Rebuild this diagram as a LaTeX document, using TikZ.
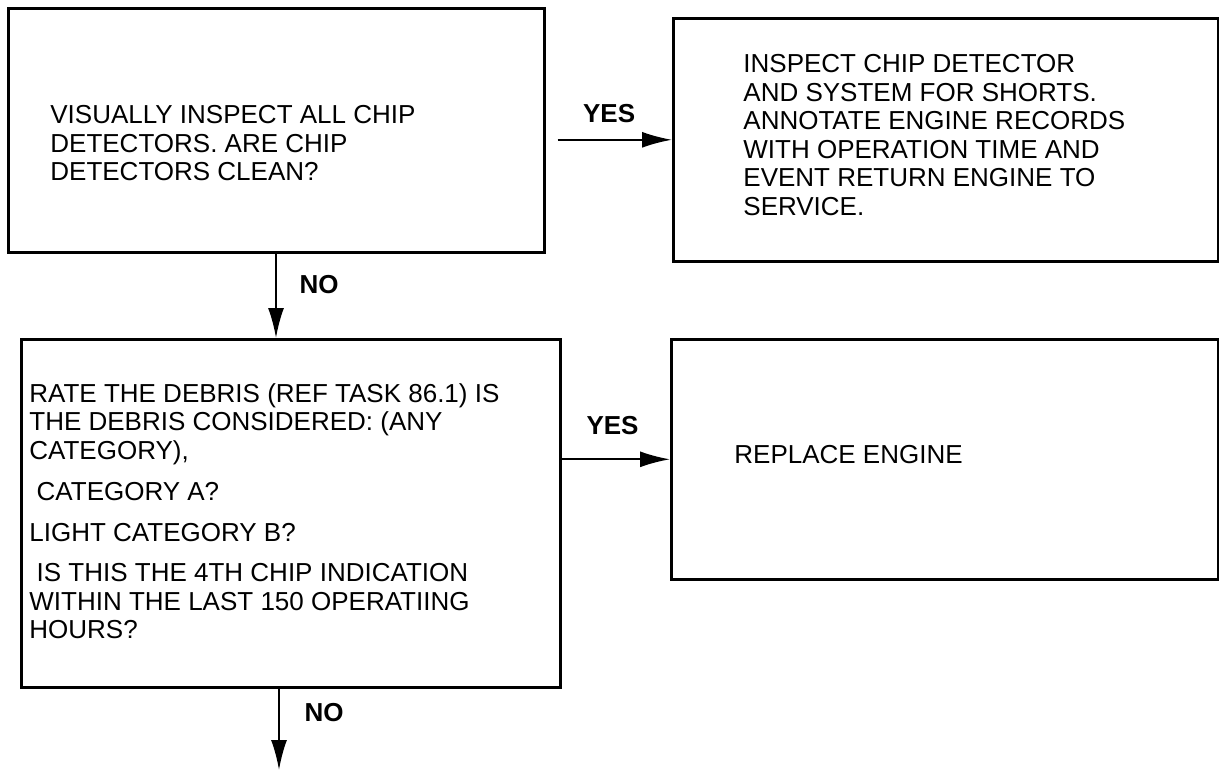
\documentclass[tikz,border=0pt]{standalone}
\usepackage{fontspec}
\setmainfont{Liberation Sans}
\usetikzlibrary{arrows.meta}

\begin{document}
\begin{tikzpicture}[x=0.5pt, y=-0.5pt,
    box/.style={draw, line width=1.3pt, inner sep=0pt, anchor=north west},
    txt/.style={inner sep=0pt, align=left, anchor=north west,
        font=\fontsize{13}{14.25}\selectfont},
    lbl/.style={font=\fontsize{13}{14}\selectfont\bfseries},
    arr/.style={line width=1pt, -{Latex[length=15pt,width=8pt]}}]
    \useasboundingbox (0,0) rectangle (1219,770);

    % Langeliai
    \node[box, minimum width=268pt, minimum height=122pt] (q1) at (7,7) {};
    \node[box, minimum width=272.5pt, minimum height=121.5pt] (a1) at (672,17) {};
    \node[box, minimum width=269.5pt, minimum height=174pt] (q2) at (20,338) {};
    \node[box, minimum width=273.5pt, minimum height=120pt] (a2) at (670,338) {};

    % Tekstai
    \node[txt] (t1) at (50,105) {VISUALLY INSPECT ALL CHIP\\
        DETECTORS. ARE CHIP\\
        DETECTORS CLEAN?};
    \node[txt] (t2) at (743,54) {INSPECT CHIP DETECTOR\\
        AND SYSTEM FOR SHORTS.\\
        ANNOTATE ENGINE RECORDS\\
        WITH OPERATION TIME AND\\
        EVENT RETURN ENGINE TO\\
        SERVICE.};
    \node[txt] (t3) at (29,383) {RATE THE DEBRIS (REF TASK 86.1) IS\\
        THE DEBRIS CONSIDERED: (ANY\\
        CATEGORY),\\[6.5pt]
        \hspace*{0.28em}CATEGORY A?\\[6pt]
        LIGHT CATEGORY B?\\[6pt]
        \hspace*{0.28em}IS THIS THE 4TH CHIP INDICATION\\
        WITHIN THE LAST 150 OPERATIING\\
        HOURS?};
    \node[txt, anchor=west] (t4) at (734,455) {REPLACE ENGINE};

    % Rodyklės
    \coordinate (end) at (279,770);
    \draw[arr] ([xshift=6pt]q1.east |- a1.west) -- (a1.west)
        node[lbl, pos=0.45, above=4.5pt] {YES};
    \draw[arr] (q1.south -| 276,0) -- (q2.north -| 276,0)
        node[lbl, pos=0.37, right=8pt] {NO};
    \draw[arr] (q2.east |- a2.west) -- (a2.west)
        node[lbl, pos=0.47, above=8.5pt] {YES};
    \draw[arr] (q2.south -| end) -- (end)
        node[lbl, pos=0.29, right=9pt] {NO};
\end{tikzpicture}
\end{document}
